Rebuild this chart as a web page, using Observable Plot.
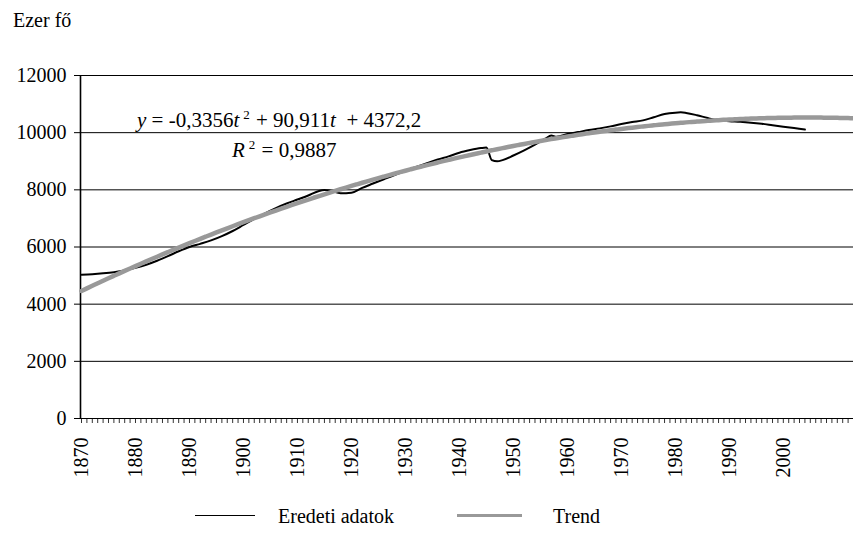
<!DOCTYPE html>
<html>
<head>
<meta charset="utf-8">
<script src="https://cdn.jsdelivr.net/npm/d3@7"></script>
<script src="https://cdn.jsdelivr.net/npm/@observablehq/plot@0.6"></script>
<style>
  body { margin: 0; background: #fff; }
  #wrap { position: relative; width: 853px; height: 536px; overflow: hidden; }
  .txt { position: absolute; white-space: nowrap; font-size: 20px; line-height: 1; color: #000; }
  .txt.eq { font-size: 21px; }
  .txt sup { font-size: 0.62em; vertical-align: 0.6em; line-height: 0; margin-left: 4px; margin-right: 1px; }
  .key { position: absolute; height: 0; }
  body, .txt, svg, svg text { font-family: "Liberation Serif", "Times New Roman", Tinos, "Nimbus Roman", FreeSerif, "Noto Serif", "DejaVu Serif", serif !important; }
</style>
</head>
<body>
<div id="wrap"></div>
<script>
// Population (thousand persons), read at selected years
const years = [1870, 1872, 1874, 1876, 1878, 1880, 1882, 1884, 1886, 1888,
  1890, 1892, 1894, 1896, 1898, 1900, 1902, 1904, 1906, 1908,
  1910, 1912, 1914, 1915, 1916, 1918, 1920, 1922, 1924, 1926,
  1928, 1930, 1932, 1934, 1936, 1938, 1940, 1942, 1944, 1945,
  1946, 1947, 1948, 1950, 1952, 1954, 1956, 1957, 1958, 1960,
  1962, 1964, 1966, 1968, 1970, 1972, 1974, 1976, 1978, 1980,
  1981, 1982, 1984, 1986, 1988, 1990, 1992, 1994, 1996, 1998,
  2000, 2002, 2004];
const population = [5030, 5050, 5080, 5120, 5180, 5270, 5380, 5520, 5680, 5850,
  6000, 6110, 6230, 6380, 6560, 6770, 6980, 7180, 7360, 7520,
  7660, 7800, 7960, 7990, 7970, 7880, 7900, 8070, 8220, 8370,
  8520, 8660, 8800, 8930, 9060, 9170, 9300, 9390, 9460, 9480,
  9040, 9000, 9040, 9200, 9380, 9580, 9800, 9900, 9860, 9950,
  10020, 10090, 10150, 10220, 10300, 10370, 10430, 10540, 10650, 10700,
  10710, 10690, 10610, 10510, 10430, 10400, 10380, 10350, 10310, 10260,
  10210, 10160, 10110];

// Quadratic trend coefficients (t = 1 in the first year) and fit quality
const trendA = -0.3356;
const trendB = 90.911;
const trendC = 4372.2;
const rSquared = 0.9887;

const firstYear = 1870;
const lastYear = 2013;
const yTicks = [0, 2000, 4000, 6000, 8000, 10000, 12000];
const decadeTicks = [1870, 1880, 1890, 1900, 1910, 1920, 1930, 1940, 1950, 1960, 1970, 1980, 1990, 2000];

const series = years.map((year, i) => ({year, value: population[i]}));
const trend = d3.range(firstYear, lastYear + 1).map(year => {
  const t = year - firstYear + 1;
  return {year, value: trendA * t * t + trendB * t + trendC};
});

const serif = "'Liberation Serif', 'Times New Roman', Tinos, 'Nimbus Roman', FreeSerif, 'Noto Serif', 'DejaVu Serif', serif";

const chart = Plot.plot({
  width: 853,
  height: 536,
  marginLeft: 81,
  marginRight: 0,
  marginTop: 75,
  marginBottom: 118,
  style: {fontFamily: serif, fontSize: "20px", color: "#000", background: "transparent", overflow: "visible"},
  x: {domain: [firstYear, lastYear]},
  y: {domain: [0, 12000]},
  marks: [
    Plot.ruleY(yTicks, {stroke: "#000", strokeWidth: 1}),
    Plot.axisY({ticks: yTicks, tickSize: 7, tickPadding: 8, tickFormat: d3.format("d"), label: null, fontSize: 20, strokeWidth: 1}),
    Plot.axisX({ticks: d3.range(firstYear, lastYear + 1), tickSize: 5, tickFormat: () => "", label: null, strokeWidth: 1, strokeOpacity: 0.8}),
    Plot.axisX({ticks: decadeTicks, tickSize: 0, tickPadding: 19, tickRotate: -90, tickFormat: d3.format("d"), label: null, fontSize: 20}),
    Plot.ruleX([firstYear], {y1: 0, y2: 12000, dx: -1, stroke: "#000", strokeWidth: 1.6}),
    Plot.line(series, {x: "year", y: "value", stroke: "#000", strokeWidth: 2, curve: "monotone-x"}),
    Plot.line(trend, {x: "year", y: "value", stroke: "#999", strokeWidth: 4.5, curve: "monotone-x"})
  ]
});

const wrap = document.getElementById("wrap");
chart.style.position = "absolute";
chart.style.left = "0px";
chart.style.top = "0px";
wrap.appendChild(chart);

const comma = v => String(v).replace(".", ",");
function addText(html, left, top, cls) {
  const d = document.createElement("div");
  d.className = "txt" + (cls ? " " + cls : "");
  d.style.left = left + "px";
  d.style.top = top + "px";
  d.innerHTML = html;
  wrap.appendChild(d);
  return d;
}
function addKey(left, width, top, color, thickness) {
  const d = document.createElement("div");
  d.className = "key";
  d.style.left = left + "px";
  d.style.width = width + "px";
  d.style.top = top + "px";
  d.style.borderTop = thickness + "px solid " + color;
  wrap.appendChild(d);
}

// unit label
addText("Ezer fő", 13, 10);

// trend equation and R²
addText(`<i>y</i> = ${comma(trendA)}<i>t</i><sup>2</sup> + ${comma(trendB)}<i>t</i>&nbsp; + ${comma(trendC)}`, 137, 110, "eq");
addText(`<i>R</i><sup>2</sup> = ${comma(rSquared)}`, 232, 140, "eq");

// legend
addKey(195, 60, 515, "#000", 1.5);
addText("Eredeti adatok", 278, 506);
addKey(457, 65, 514, "#999", 3);
addText("Trend", 553, 506);
</script>
</body>
</html>
